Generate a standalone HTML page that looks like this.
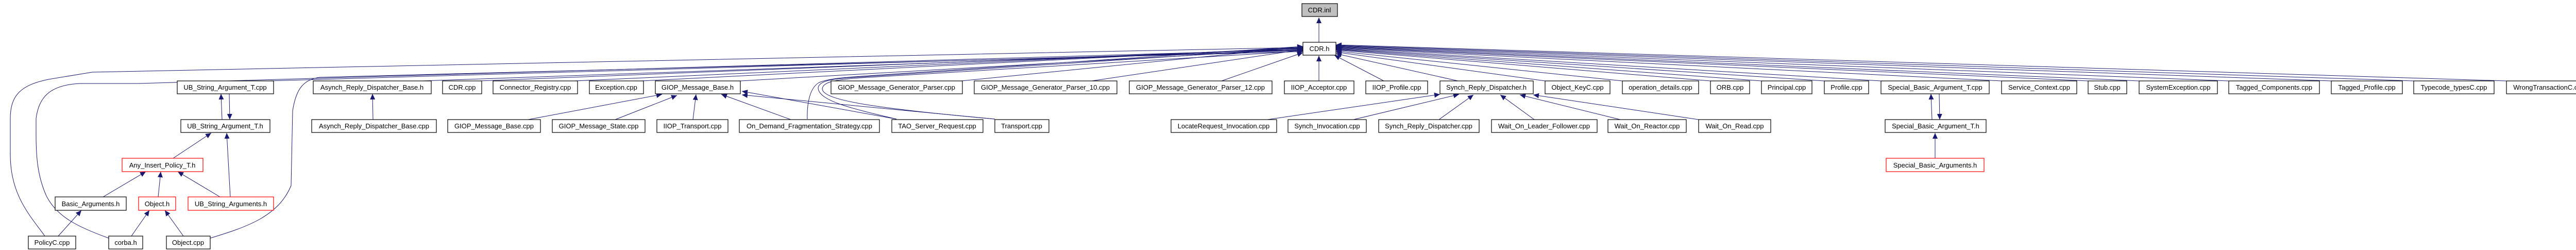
<!DOCTYPE html>
<html><head><meta charset="utf-8"><style>
html,body{margin:0;padding:0;background:#fff;}
svg{display:block;}
text{font-family:"Liberation Sans",sans-serif;font-size:13px;fill:#000;}
.b{fill:#fff;stroke:#000;stroke-width:1.2;}
.r{fill:#fff;stroke:#f00;stroke-width:1.2;}
.g{fill:#bfbfbf;stroke:#000;stroke-width:1.2;}
.e{fill:none;stroke:#191970;stroke-width:1;}
</style></head><body>
<svg width="5032" height="485" viewBox="0 0 5032 485" xmlns="http://www.w3.org/2000/svg">
<defs>
<marker id="a" markerUnits="userSpaceOnUse" markerWidth="12" markerHeight="10" refX="11" refY="5" orient="auto">
<path d="M0,0 L11,5 L0,10 z" fill="#191970"/>
</marker>
</defs>
<g class="e" marker-end="url(#a)">
<!-- CDR.h -> CDR.inl -->
<line x1="2560" y1="82" x2="2560" y2="34"/>
<!-- left to CDR.h -->
<path d="M87,458 C60,420 20,380 20,300 L20,230 C20,185 40,165 94,154 L179,140 L2529,92"/>
<path d="M211,462 C150,440 110,420 90,380 C72,340 70,300 70,260 L70,230 C75,190 95,165 155,162 L268,162 L2529,96"/>
<path d="M408,462 C480,440 540,420 565,360 L568,215 C575,170 590,155 620,150 L2529,100"/>
<line x1="520" y1="157" x2="2529" y2="98"/>
<line x1="820" y1="157" x2="2529" y2="97"/>
<line x1="930" y1="157" x2="2529" y2="94"/>
<line x1="1115" y1="157" x2="2529" y2="93"/>
<line x1="1245" y1="157" x2="2529" y2="92"/>
<line x1="1437" y1="157" x2="2529" y2="95"/>
<line x1="1866" y1="157" x2="2529" y2="91"/>
<line x1="2119" y1="157" x2="2529" y2="96"/>
<line x1="2371" y1="157" x2="2529" y2="102"/>
<path d="M1567,231 C1566,200 1572,170 1590,160 C1610,152 1640,150 1700,146 L2529,90"/>
<path d="M1740,231 C1650,210 1588,195 1588,170 C1590,158 1610,153 1660,150 L2529,93"/>
<path d="M1931,231 C1700,210 1596,195 1596,172 C1598,160 1615,155 1670,151 L2529,99"/>
<!-- below -->
<line x1="2560" y1="157" x2="2560" y2="108"/>
<line x1="2686" y1="157" x2="2590" y2="107"/>
<!-- right to CDR.h -->
<line x1="2830" y1="157" x2="2593" y2="104"/>
<line x1="2999" y1="157" x2="2593" y2="101"/>
<line x1="3149" y1="157" x2="2593" y2="99"/>
<line x1="3320" y1="157" x2="2593" y2="97"/>
<line x1="3419" y1="157" x2="2593" y2="96"/>
<line x1="3541" y1="157" x2="2593" y2="95"/>
<line x1="3651" y1="157" x2="2593" y2="94"/>
<line x1="3885" y1="157" x2="2593" y2="93"/>
<line x1="4053" y1="157" x2="2593" y2="92"/>
<line x1="4152" y1="157" x2="2593" y2="91"/>
<line x1="4326" y1="157" x2="2593" y2="90"/>
<line x1="4525" y1="157" x2="2593" y2="89"/>
<line x1="4685" y1="157" x2="2593" y2="88"/>
<line x1="4865" y1="157" x2="2593" y2="87"/>
<!-- UB -->
<line x1="431" y1="232" x2="429" y2="182"/>
<line x1="445" y1="182" x2="446" y2="232"/>
<line x1="724" y1="232" x2="723" y2="182"/>
<line x1="336" y1="307" x2="410" y2="258"/>
<line x1="447" y1="382" x2="440" y2="258"/>
<line x1="200" y1="382" x2="283" y2="333"/>
<line x1="307" y1="382" x2="312" y2="333"/>
<line x1="427" y1="382" x2="345" y2="333"/>
<line x1="113" y1="458" x2="158" y2="408"/>
<line x1="255" y1="458" x2="290" y2="408"/>
<line x1="356" y1="458" x2="320" y2="408"/>
<!-- GIOP_Message_Base.h -->
<line x1="1025" y1="232" x2="1285" y2="183"/>
<line x1="1194" y1="232" x2="1314" y2="185"/>
<line x1="1345" y1="232" x2="1351" y2="183"/>
<line x1="1535" y1="232" x2="1400" y2="183"/>
<line x1="1740" y1="231" x2="1440" y2="177"/>
<line x1="1931" y1="231" x2="1440" y2="184"/>
<!-- Synch_Reply_Dispatcher.h -->
<line x1="2460" y1="232" x2="2795" y2="183"/>
<line x1="2627" y1="232" x2="2832" y2="183"/>
<line x1="2793" y1="232" x2="2860" y2="184"/>
<line x1="2978" y1="232" x2="2912" y2="184"/>
<line x1="3145" y1="232" x2="2950" y2="184"/>
<line x1="3297" y1="232" x2="2976" y2="184"/>
<!-- Special -->
<line x1="3750" y1="232" x2="3748" y2="182"/>
<line x1="3764" y1="182" x2="3765" y2="232"/>
<line x1="3756" y1="307" x2="3756" y2="258"/>
</g>
<g>
<rect class="g" x="2527" y="7" width="69" height="25"/><text x="2561" y="24" text-anchor="middle">CDR.inl</text>
<rect class="b" x="2529" y="82" width="64" height="25"/><text x="2561" y="99" text-anchor="middle">CDR.h</text>

<rect class="b" x="344" y="157" width="187" height="25"/><text x="437" y="174" text-anchor="middle">UB_String_Argument_T.cpp</text>
<rect class="b" x="608" y="157" width="229" height="25"/><text x="722" y="174" text-anchor="middle">Asynch_Reply_Dispatcher_Base.h</text>
<rect class="b" x="859" y="157" width="76" height="25"/><text x="897" y="174" text-anchor="middle">CDR.cpp</text>
<rect class="b" x="957" y="157" width="164" height="25"/><text x="1039" y="174" text-anchor="middle">Connector_Registry.cpp</text>
<rect class="b" x="1144" y="157" width="105" height="25"/><text x="1196" y="174" text-anchor="middle">Exception.cpp</text>
<rect class="b" x="1272" y="157" width="165" height="25"/><text x="1354" y="174" text-anchor="middle">GIOP_Message_Base.h</text>
<rect class="b" x="1613" y="157" width="255" height="25"/><text x="1740" y="174" text-anchor="middle">GIOP_Message_Generator_Parser.cpp</text>
<rect class="b" x="1891" y="157" width="277" height="25"/><text x="2029" y="174" text-anchor="middle">GIOP_Message_Generator_Parser_10.cpp</text>
<rect class="b" x="2192" y="157" width="277" height="25"/><text x="2330" y="174" text-anchor="middle">GIOP_Message_Generator_Parser_12.cpp</text>
<rect class="b" x="2493" y="157" width="135" height="25"/><text x="2560" y="174" text-anchor="middle">IIOP_Acceptor.cpp</text>
<rect class="b" x="2651" y="157" width="120" height="25"/><text x="2711" y="174" text-anchor="middle">IIOP_Profile.cpp</text>
<rect class="b" x="2795" y="157" width="181" height="25"/><text x="2885" y="174" text-anchor="middle">Synch_Reply_Dispatcher.h</text>
<rect class="b" x="2999" y="157" width="126" height="25"/><text x="3062" y="174" text-anchor="middle">Object_KeyC.cpp</text>
<rect class="b" x="3149" y="157" width="148" height="25"/><text x="3223" y="174" text-anchor="middle">operation_details.cpp</text>
<rect class="b" x="3320" y="157" width="76" height="25"/><text x="3358" y="174" text-anchor="middle">ORB.cpp</text>
<rect class="b" x="3419" y="157" width="98" height="25"/><text x="3468" y="174" text-anchor="middle">Principal.cpp</text>
<rect class="b" x="3541" y="157" width="86" height="25"/><text x="3584" y="174" text-anchor="middle">Profile.cpp</text>
<rect class="b" x="3651" y="157" width="210" height="25"/><text x="3756" y="174" text-anchor="middle">Special_Basic_Argument_T.cpp</text>
<rect class="b" x="3885" y="157" width="146" height="25"/><text x="3958" y="174" text-anchor="middle">Service_Context.cpp</text>
<rect class="b" x="4053" y="157" width="75" height="25"/><text x="4090" y="174" text-anchor="middle">Stub.cpp</text>
<rect class="b" x="4152" y="157" width="152" height="25"/><text x="4228" y="174" text-anchor="middle">SystemException.cpp</text>
<rect class="b" x="4326" y="157" width="176" height="25"/><text x="4414" y="174" text-anchor="middle">Tagged_Components.cpp</text>
<rect class="b" x="4525" y="157" width="138" height="25"/><text x="4594" y="174" text-anchor="middle">Tagged_Profile.cpp</text>
<rect class="b" x="4685" y="157" width="156" height="25"/><text x="4763" y="174" text-anchor="middle">Typecode_typesC.cpp</text>
<rect class="b" x="4865" y="157" width="166" height="25"/><text x="4948" y="174" text-anchor="middle">WrongTransactionC.cpp</text>

<rect class="b" x="351" y="232" width="173" height="25"/><text x="437" y="249" text-anchor="middle">UB_String_Argument_T.h</text>
<rect class="b" x="605" y="232" width="242" height="25"/><text x="726" y="249" text-anchor="middle">Asynch_Reply_Dispatcher_Base.cpp</text>
<rect class="b" x="869" y="232" width="180" height="25"/><text x="959" y="249" text-anchor="middle">GIOP_Message_Base.cpp</text>
<rect class="b" x="1072" y="232" width="180" height="25"/><text x="1162" y="249" text-anchor="middle">GIOP_Message_State.cpp</text>
<rect class="b" x="1275" y="232" width="138" height="25"/><text x="1344" y="249" text-anchor="middle">IIOP_Transport.cpp</text>
<rect class="b" x="1435" y="232" width="272" height="25"/><text x="1571" y="249" text-anchor="middle">On_Demand_Fragmentation_Strategy.cpp</text>
<rect class="b" x="1731" y="232" width="177" height="25"/><text x="1819" y="249" text-anchor="middle">TAO_Server_Request.cpp</text>
<rect class="b" x="1931" y="232" width="105" height="25"/><text x="1983" y="249" text-anchor="middle">Transport.cpp</text>
<rect class="b" x="2273" y="232" width="205" height="25"/><text x="2375" y="249" text-anchor="middle">LocateRequest_Invocation.cpp</text>
<rect class="b" x="2500" y="232" width="152" height="25"/><text x="2576" y="249" text-anchor="middle">Synch_Invocation.cpp</text>
<rect class="b" x="2676" y="232" width="195" height="25"/><text x="2773" y="249" text-anchor="middle">Synch_Reply_Dispatcher.cpp</text>
<rect class="b" x="2895" y="232" width="205" height="25"/><text x="2997" y="249" text-anchor="middle">Wait_On_Leader_Follower.cpp</text>
<rect class="b" x="3121" y="232" width="152" height="25"/><text x="3197" y="249" text-anchor="middle">Wait_On_Reactor.cpp</text>
<rect class="b" x="3297" y="232" width="140" height="25"/><text x="3367" y="249" text-anchor="middle">Wait_On_Read.cpp</text>
<rect class="b" x="3659" y="232" width="196" height="25"/><text x="3757" y="249" text-anchor="middle">Special_Basic_Argument_T.h</text>

<rect class="r" x="237" y="307" width="157" height="26"/><text x="315" y="325" text-anchor="middle">Any_Insert_Policy_T.h</text>
<rect class="r" x="3661" y="307" width="190" height="26"/><text x="3756" y="325" text-anchor="middle">Special_Basic_Arguments.h</text>

<rect class="b" x="107" y="382" width="138" height="26"/><text x="176" y="400" text-anchor="middle">Basic_Arguments.h</text>
<rect class="r" x="269" y="382" width="72" height="26"/><text x="305" y="400" text-anchor="middle">Object.h</text>
<rect class="r" x="365" y="382" width="166" height="26"/><text x="448" y="400" text-anchor="middle">UB_String_Arguments.h</text>

<rect class="b" x="55" y="458" width="92" height="25"/><text x="101" y="475" text-anchor="middle">PolicyC.cpp</text>
<rect class="b" x="211" y="458" width="66" height="25"/><text x="244" y="475" text-anchor="middle">corba.h</text>
<rect class="b" x="323" y="458" width="85" height="25"/><text x="365" y="475" text-anchor="middle">Object.cpp</text>
</g>
</svg>
</body></html>
